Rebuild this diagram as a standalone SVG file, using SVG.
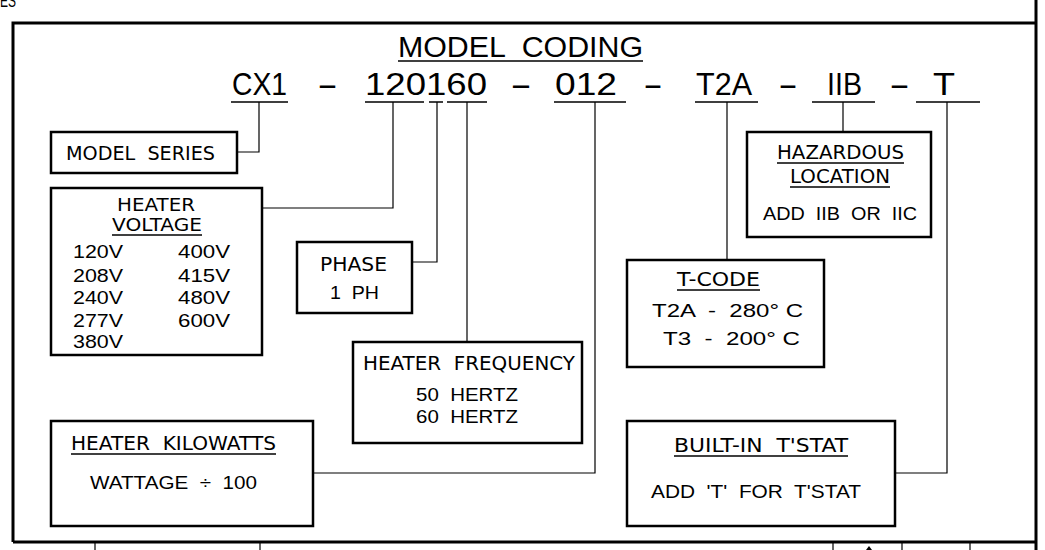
<svg xmlns="http://www.w3.org/2000/svg" width="1045" height="550" viewBox="0 0 1045 550">
<style>
.frame{fill:none;stroke:#000;stroke-width:3}
.box{fill:#fff;stroke:#000;stroke-width:2.5}
.conn{fill:none;stroke:#000;stroke-width:1.2}
.ul{fill:none;stroke:#000;stroke-width:1.6}
text{fill:#000;white-space:pre}
.big{font-family:"Liberation Sans",Arial,sans-serif;font-size:32px}
.ttl{font-family:"Liberation Sans",Arial,sans-serif;font-size:30px}
.h{font-family:"DejaVu Sans",Verdana,sans-serif;font-size:19px}
.hs{font-family:"DejaVu Sans",Verdana,sans-serif;font-size:17px}
.b{font-family:"Liberation Sans",Arial,sans-serif;font-size:19px}
</style>
<rect width="1045" height="550" fill="#fff"/>
<text class="b" x="0" y="7" textLength="16" lengthAdjust="spacingAndGlyphs">ES</text>
<g id="frame">
<path class="frame" d="M13,542 V23 H1036 M1036,0 V550 M13,542 H1036"/>
<path class="conn" d="M95,542 V550 M260,542 V550 M833,542 V550 M902,542 V550 M970,542 V550"/>
<polygon points="866,550 869,546 872,550" fill="#000"/>
</g>
<g id="title">
<text class="ttl" x="398" y="57" textLength="245" lengthAdjust="spacingAndGlyphs">MODEL  CODING</text>
<path class="ul" d="M398,61 H643"/>
</g>
<g id="code">
<text class="big" x="232" y="95" textLength="55" lengthAdjust="spacingAndGlyphs">CX1</text>
<text class="big" x="317" y="95" textLength="21" lengthAdjust="spacingAndGlyphs">-</text>
<text class="big" x="365" y="95" textLength="122" lengthAdjust="spacingAndGlyphs">120160</text>
<text class="big" x="510" y="95" textLength="22" lengthAdjust="spacingAndGlyphs">-</text>
<text class="big" x="555" y="95" textLength="62" lengthAdjust="spacingAndGlyphs">012</text>
<text class="big" x="643" y="95" textLength="20" lengthAdjust="spacingAndGlyphs">-</text>
<text class="big" x="696" y="95" textLength="56" lengthAdjust="spacingAndGlyphs">T2A</text>
<text class="big" x="778" y="95" textLength="20" lengthAdjust="spacingAndGlyphs">-</text>
<text class="big" x="827" y="95" textLength="35" lengthAdjust="spacingAndGlyphs">IIB</text>
<text class="big" x="889" y="95" textLength="21" lengthAdjust="spacingAndGlyphs">-</text>
<text class="big" x="933" y="95" textLength="22" lengthAdjust="spacingAndGlyphs">T</text>
<path class="ul" d="M231,102 H288 M365,102 H424 M429,102 H443 M447,102 H487 M554,102 H626 M695,102 H758 M812,102 H875 M916,102 H980"/>
</g>
<g id="connectors">
<path class="conn" d="M259,102 V152 H237"/>
<path class="conn" d="M393,102 V208 H262"/>
<path class="conn" d="M437,102 V262 H412"/>
<path class="conn" d="M467,102 V342"/>
<path class="conn" d="M595,102 V473 H313"/>
<path class="conn" d="M727,102 V260"/>
<path class="conn" d="M843,102 V132"/>
<path class="conn" d="M947,102 V473 H895"/>
</g>
<g id="model-series">
<rect class="box" x="51" y="132" width="186" height="41"/>
<text class="h" x="66" y="160" textLength="149" lengthAdjust="spacingAndGlyphs">MODEL  SERIES</text>
</g>
<g id="heater-voltage">
<rect class="box" x="51" y="188" width="211" height="167"/>
<text class="hs" x="117" y="211" textLength="78" lengthAdjust="spacingAndGlyphs">HEATER</text>
<text class="hs" x="112" y="231" textLength="90" lengthAdjust="spacingAndGlyphs">VOLTAGE</text>
<path class="ul" d="M112,235 H202"/>
<text class="b" x="73" y="258" textLength="50" lengthAdjust="spacingAndGlyphs">120V</text>
<text class="b" x="73" y="282" textLength="50" lengthAdjust="spacingAndGlyphs">208V</text>
<text class="b" x="73" y="304" textLength="50" lengthAdjust="spacingAndGlyphs">240V</text>
<text class="b" x="73" y="327" textLength="50" lengthAdjust="spacingAndGlyphs">277V</text>
<text class="b" x="73" y="348" textLength="50" lengthAdjust="spacingAndGlyphs">380V</text>
<text class="b" x="178" y="258" textLength="52" lengthAdjust="spacingAndGlyphs">400V</text>
<text class="b" x="178" y="282" textLength="52" lengthAdjust="spacingAndGlyphs">415V</text>
<text class="b" x="178" y="304" textLength="52" lengthAdjust="spacingAndGlyphs">480V</text>
<text class="b" x="178" y="327" textLength="52" lengthAdjust="spacingAndGlyphs">600V</text>
</g>
<g id="phase">
<rect class="box" x="297" y="242" width="115" height="71"/>
<text class="h" x="320" y="271" textLength="67" lengthAdjust="spacingAndGlyphs">PHASE</text>
<text class="b" x="330" y="299" textLength="49" lengthAdjust="spacingAndGlyphs">1  PH</text>
</g>
<g id="heater-frequency">
<rect class="box" x="353" y="342" width="229" height="101"/>
<text class="h" x="363" y="370" textLength="212" lengthAdjust="spacingAndGlyphs">HEATER  FREQUENCY</text>
<text class="b" x="416" y="401" textLength="102" lengthAdjust="spacingAndGlyphs">50  HERTZ</text>
<text class="b" x="416" y="423" textLength="102" lengthAdjust="spacingAndGlyphs">60  HERTZ</text>
</g>
<g id="heater-kilowatts">
<rect class="box" x="51" y="421" width="262" height="105"/>
<text class="h" x="71" y="450" textLength="205" lengthAdjust="spacingAndGlyphs">HEATER  KILOWATTS</text>
<path class="ul" d="M71,454 H276"/>
<text class="b" x="90" y="489" textLength="167" lengthAdjust="spacingAndGlyphs">WATTAGE  ÷  100</text>
</g>
<g id="t-code">
<rect class="box" x="627" y="260" width="197" height="107"/>
<text class="h" x="677" y="286" textLength="83" lengthAdjust="spacingAndGlyphs">T-CODE</text>
<path class="ul" d="M677,290 H760"/>
<text class="b" x="652" y="317" textLength="151" lengthAdjust="spacingAndGlyphs">T2A  -  280° C</text>
<text class="b" x="663" y="345" textLength="137" lengthAdjust="spacingAndGlyphs">T3  -  200° C</text>
</g>
<g id="hazardous-location">
<rect class="box" x="747" y="132" width="184" height="105"/>
<text class="h" x="777" y="159" textLength="127" lengthAdjust="spacingAndGlyphs">HAZARDOUS</text>
<path class="ul" d="M777,163 H904"/>
<text class="h" x="790" y="183" textLength="100" lengthAdjust="spacingAndGlyphs">LOCATION</text>
<path class="ul" d="M790,187 H890"/>
<text class="b" x="763" y="220" textLength="154" lengthAdjust="spacingAndGlyphs">ADD  IIB  OR  IIC</text>
</g>
<g id="built-in-tstat">
<rect class="box" x="627" y="421" width="268" height="105"/>
<text class="h" x="674" y="452" textLength="174" lengthAdjust="spacingAndGlyphs">BUILT-IN  T'STAT</text>
<path class="ul" d="M674,456 H848"/>
<text class="b" x="651" y="498" textLength="210" lengthAdjust="spacingAndGlyphs">ADD  'T'  FOR  T'STAT</text>
</g>
</svg>
